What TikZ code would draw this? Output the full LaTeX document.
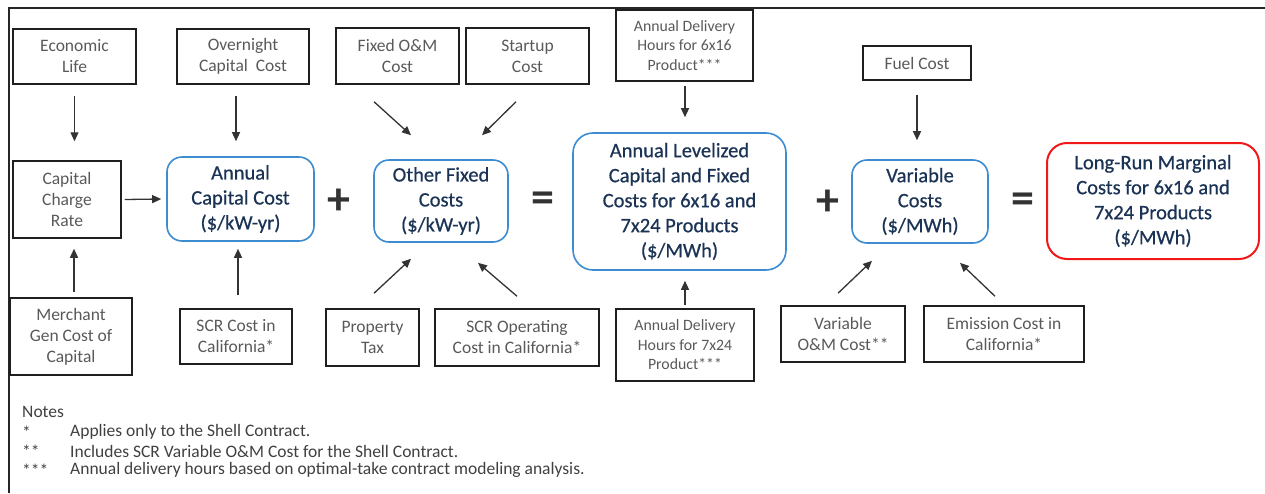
\documentclass[tikz,border=0pt]{standalone}
\usepackage{fontspec}
\setmainfont{Carlito}
\newfontfamily\keyfont{Carlito}[FakeBold=0.6]
\usetikzlibrary{calc,arrows.meta}
\definecolor{boxtext}{HTML}{595959}
\definecolor{navy}{HTML}{1B3355}
\definecolor{bblue}{HTML}{3D8BD0}
\definecolor{rred}{HTML}{F01818}
\definecolor{arrc}{HTML}{333333}
\definecolor{notec}{HTML}{404040}
\begin{document}
\begin{tikzpicture}[x=1pt,y=-1pt,
  inbox/.style={draw=black!88,line width=1.5pt,inner sep=0pt,align=center,text=boxtext,
    font=\fontsize{17.5}{21}\selectfont},
  smallbox/.style={inbox,font=\fontsize{15.8}{19.5}\selectfont},
  keybox/.style={draw=bblue,line width=1.6pt,rounded corners=15pt,inner sep=0pt,align=center,
    text=navy,font=\keyfont\fontsize{20.5}{25}\selectfont},
  redbox/.style={keybox,draw=rred,line width=2pt,rounded corners=20pt},
  arr/.style={draw=arrc,line width=1.3pt,-{Triangle[length=9pt,width=8pt]}},
  op/.style={inner sep=0pt,text=arrc,font=\fontsize{46}{46}\selectfont\bfseries},
  notetxt/.style={inner sep=0pt,anchor=west,text=notec,font=\fontsize{17.5}{20}\selectfont},
  frame/.style={draw=black!85,line width=1.8pt}]
\useasboundingbox (0,0) rectangle (1265,493);
\draw[frame] (9,493) -- (9,8) -- (1265,8);

% input boxes, top row
\node[inbox,minimum width=123pt,minimum height=55pt] (eco) at (74.5,56.5) {Economic\\Life};
\node[inbox,minimum width=132pt,minimum height=55pt] (over) at (243,56.5) {Overnight\\Capital\ \ Cost};
\node[inbox,minimum width=123pt,minimum height=56pt] (fom) at (397.5,56) {Fixed O\&M\\Cost};
\node[inbox,minimum width=123pt,minimum height=56pt] (start) at (527.5,56) {Startup\\Cost};
\node[smallbox,minimum width=137pt,minimum height=71pt] (ad16) at (684.5,45.5) {Annual Delivery\\Hours for 6x16\\Product***};
\node[inbox,minimum width=108pt,minimum height=34pt] (fuel) at (917,63) {Fuel Cost};

% middle row
\node[inbox,minimum width=108pt,minimum height=77pt] (ccr) at (67,199.5) {Capital\\Charge\\Rate};
\node[keybox,minimum width=147pt,minimum height=84pt] (acc) at (240.5,199) {Annual\\Capital Cost\\(\$/kW-yr)};
\node[keybox,minimum width=134pt,minimum height=82pt] (ofc) at (441,201) {Other Fixed\\Costs\\(\$/kW-yr)};
\node[keybox,rounded corners=20pt,minimum width=213pt,minimum height=137pt] (alc) at (679.5,201.5) {Annual Levelized\\Capital and Fixed\\Costs for 6x16 and\\7x24 Products\\(\$/MWh)};
\node[keybox,minimum width=136pt,minimum height=83pt] (vc) at (920,201.5) {Variable\\Costs\\(\$/MWh)};
\node[redbox,minimum width=212pt,minimum height=116pt] (lrmc) at (1153,201) {Long-Run Marginal\\Costs for 6x16 and\\7x24 Products\\(\$/MWh)};

\node[op] (plus1) at (339,202) {+};
\node[op] (eq1) at (543,202) {=};
\node[op] (plus2) at (828,203) {+};
\node[op] (eq2) at (1023,203) {=};

% bottom row
\node[inbox,minimum width=122pt,minimum height=77pt] (merch) at (71,336.5) {Merchant\\Gen Cost of\\Capital};
\node[inbox,minimum width=112pt,minimum height=55pt] (scr) at (236,336.5) {SCR Cost in\\California*};
\node[inbox,minimum width=93pt,minimum height=57pt] (prop) at (372.5,337.5) {Property\\Tax};
\node[inbox,minimum width=164pt,minimum height=57pt] (scrop) at (517,337.5) {SCR Operating\\Cost in California*};
\node[smallbox,minimum width=138pt,minimum height=72pt] (ad24) at (685,345) {Annual Delivery\\Hours for 7x24\\Product***};
\node[inbox,minimum width=124pt,minimum height=56pt] (vom) at (843,334) {Variable\\O\&M Cost**};
\node[inbox,minimum width=160pt,minimum height=56pt] (emis) at (1004,334) {Emission Cost in\\California*};

% connectors
\draw[arr] ($(eco.south)+(0,11)$) -- ($(eco.south |- ccr.north)+(0,-19)$);
\draw[arr] ($(over.south)+(-7,11)$) -- ($(over.south |- acc.north)+(-7,-15)$);
\draw[arr] ($(ccr.east)+(3,0)$) -- ($(acc.west)+(-5,0)$);
\draw[arr] ($(merch.north)+(3,-5)$) -- ($(merch.north |- ccr.south)+(3,10)$);
\draw[arr] ($(scr.north)+(2,-13)$) -- ($(scr.north |- acc.south)+(2,7)$);
\draw[arr] ($(fom.south)+(-23.5,17)$) -- ($(ofc.north)+(-30,-24)$);
\draw[arr] ($(start.south)+(-11.5,17)$) -- ($(ofc.north)+(41,-24)$);
\draw[arr] ($(prop.north)+(1.5,-15)$) -- ($(ofc.south)+(-30,16)$);
\draw[arr] ($(scrop.north)+(0,-12)$) -- ($(ofc.south)+(37,20)$);
\draw[arr] ($(ad16.south)+(0.5,4)$) -- ($(ad16.south |- alc.north)+(0.5,-15)$);
\draw[arr] ($(ad24.north)+(0,-3)$) -- ($(ad24.north |- alc.south)+(0,10)$);
\draw[arr] ($(fuel.south)+(0,14)$) -- ($(fuel.south |- vc.north)+(0,-19)$);
\draw[arr] ($(vom.north)+(-5,-12)$) -- ($(vc.south)+(-48,17)$);
\draw[arr] ($(emis.north)+(-9,-9)$) -- ($(vc.south)+(40,19)$);

% notes
\node[notetxt] (notes) at (22,412) {Notes};
\node[notetxt] (s1) at (22,432) {*};
\node[notetxt] (s2) at (22,451) {**};
\node[notetxt] (s3) at (22,470) {***};
\node[notetxt] (n1) at (70,432) {Applies only to the Shell Contract.};
\node[notetxt] (n2) at (70,451) {Includes SCR Variable O\&M Cost for the Shell Contract.};
\node[notetxt] (n3) at (70,470) {Annual delivery hours based on optimal-take contract modeling analysis.};
\end{tikzpicture}
\end{document}
